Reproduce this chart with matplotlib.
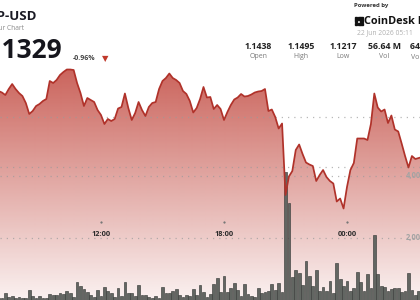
import numpy as np
import pandas as pd
import matplotlib
matplotlib.use('Agg')
import matplotlib.pyplot as plt
import matplotlib.dates as mdates
from matplotlib.path import Path
from matplotlib.patches import Rectangle
from matplotlib.transforms import blended_transform_factory as btf

# ---------------- data ----------------
start_time = '2026-06-21 07:00'
n_points = 125
times = pd.date_range(start_time, periods=n_points, freq='10min')

price = [
    1.1452, 1.1449, 1.1444, 1.1456, 1.1466, 1.1456, 1.1448, 1.1442, 1.1428, 1.1406,
    1.1412, 1.1422, 1.1426, 1.1432, 1.1436, 1.1472, 1.1468, 1.1474, 1.1484, 1.1490,
    1.1495, 1.1495, 1.1494, 1.1468, 1.1448, 1.1422, 1.1438, 1.1434, 1.1430, 1.1414,
    1.1404, 1.1386, 1.1396, 1.1392, 1.1396, 1.1417, 1.1420, 1.1447, 1.1418, 1.1394,
    1.1408, 1.1430, 1.1414, 1.1402, 1.1420, 1.1428, 1.1430, 1.1456, 1.1472, 1.1478,
    1.1487, 1.1478, 1.1474, 1.1468, 1.1452, 1.1446, 1.1432, 1.1409, 1.1418, 1.1436,
    1.1460, 1.1439, 1.1440, 1.1416, 1.1424, 1.1416, 1.1394, 1.1410, 1.1424, 1.1435,
    1.1439, 1.1446, 1.1441, 1.1442, 1.1445, 1.1449, 1.1451, 1.1452, 1.1456, 1.1412,
    1.1415, 1.1400, 1.1377, 1.1387, 1.1244, 1.1281, 1.1292, 1.1334, 1.1345, 1.1326,
    1.1309, 1.1305, 1.1302, 1.1272, 1.1284, 1.1294, 1.1280, 1.1272, 1.1267, 1.1231,
    1.1237, 1.1217, 1.1260, 1.1294, 1.1308, 1.1357, 1.1357, 1.1357, 1.1354, 1.1386,
    1.1447, 1.1419, 1.1411, 1.1415, 1.1388, 1.1403, 1.1375, 1.1371, 1.1347, 1.1322,
    1.1299, 1.1322, 1.1316, 1.1318, 1.1320,
]

volume = [
    65, 65, 225, 95, 130, 65, 95, 50, 65, 320,
    130, 65, 115, 50, 50, 195, 160, 160, 225, 195,
    290, 225, 95, 580, 450, 355, 260, 160, 95, 320,
    130, 420, 290, 225, 95, 385, 130, 580, 225, 225,
    130, 485, 160, 160, 95, 65, 130, 65, 420, 225,
    225, 290, 355, 160, 95, 160, 130, 355, 160, 485,
    260, 95, 195, 515, 710, 260, 775, 260, 385, 550,
    320, 130, 515, 195, 130, 95, 385, 225, 260, 290,
    515, 320, 550, 260, 4130, 3130, 740, 970, 870, 480,
    1260, 775, 450, 970, 290, 420, 290, 615, 225, 1195,
    680, 450, 615, 290, 385, 905, 580, 290, 840, 385,
    2095, 840, 450, 420, 290, 355, 385, 385, 260, 290,
    870, 320, 160, 290, 225,
]

tick_times = ['2026-06-21 12:00', '2026-06-21 18:00', '2026-06-22 00:00']
tick_labels = ['12:00', '18:00', '00:00']
price_grid = [1.13, 1.14]
vol_ticks = [2000, 4000]
vol_tick_labels = ['2,000M', '4,000M']

pair_name = 'GBP-USD'
subtitle = '24 Hour Chart'
last_price = '1.1329'
change_pct = '-0.96%'
stat_values = ['1.1438', '1.1495', '1.1217', '56.64 M', '64.12 M']
stat_labels = ['Open', 'High', 'Low', 'Vol', 'Vol (USD)']
timestamp = '22 Jun 2026 05:11'

# ---------------- figure ----------------
W, H = 420, 300
fig = plt.figure(figsize=(W / 100, H / 100), dpi=100)
fig.patch.set_facecolor('white')

ref = pd.Timestamp('2026-06-21 12:00')
x0 = mdates.date2num(ref - pd.Timedelta(minutes=295.6))
x1 = mdates.date2num(ref + pd.Timedelta(minutes=933.7))

ax = fig.add_axes([0, 0, 1, 1])
ax.set_xlim(x0, x1)
ax.set_ylim(1.1034, 1.1634)
ax.axis('off')

tnum = mdates.date2num(times)
pr = np.array(price)

# gradient fill clipped to area below the line
ys = np.arange(H)
alpha = np.clip(0.8 - (ys - 70) * 0.7 / 220, 0.07, 0.82)
grad = np.zeros((H, 1, 4))
grad[:, 0, 0] = 190 / 255
grad[:, 0, 1] = 62 / 255
grad[:, 0, 2] = 52 / 255
grad[:, 0, 3] = alpha
im = ax.imshow(grad, extent=[x0, x1, 1.1034, 1.1634], aspect='auto',
               origin='upper', zorder=1, interpolation='bilinear')
verts = [(tnum[0], 1.1034)] + list(zip(tnum, pr)) + [(tnum[-1], 1.1034), (tnum[0], 1.1034)]
clip = Path(verts, closed=True)
im.set_clip_path(clip, transform=ax.transData)

for g in price_grid:
    ax.axhline(g, color='#9a9a9a', lw=0.9, ls=(0, (1, 4)), alpha=0.7, zorder=2)

# volume axis
axv = ax.twinx()
axv.set_ylim(0, 9677)
axv.set_xlim(x0, x1)
axv.axis('off')
for v in vol_ticks:
    axv.axhline(v, color='#9a9a9a', lw=0.9, ls=(0, (1, 4)), alpha=0.7, zorder=2)
axv.bar(times, volume, width=8 / 1440, color='#626662', edgecolor='#3c3e3c',
        linewidth=0.45, zorder=3)
for v, lab in zip(vol_ticks, vol_tick_labels):
    axv.text(406 / W, v, lab, transform=btf(axv.transAxes, axv.transData),
             ha='left', va='center', fontsize=5.5, fontweight='bold',
             color='#a3a3a3', family='Open Sans')

# price line
axl = ax.twinx()
axl.set_ylim(ax.get_ylim())
axl.set_xlim(x0, x1)
axl.axis('off')
axl.plot(times, price, color='#b0322a', lw=1.25, zorder=5, solid_joinstyle='round')

# time ticks (inside)
for t, lab in zip(tick_times, tick_labels):
    tn = mdates.date2num(pd.Timestamp(t))
    ax.plot([tn], [1 - 222 / H], transform=btf(ax.transData, ax.transAxes),
            marker='s', ms=0.6, color='#777777', zorder=6)
    ax.text(tn, 1 - 234.6 / H, lab, transform=btf(ax.transData, ax.transAxes),
            ha='center', va='center', fontsize=5.3, fontweight='bold',
            color='#2b2b2b', family='Open Sans', zorder=6)


def fx(x):
    return x / W


def fy(y):
    return 1 - y / H


# header
fig.text(fx(37), fy(17), pair_name, ha='right', va='center', fontsize=9.5,
         fontweight='bold', family='Open Sans', color='#1a1a24')
fig.text(fx(24), fy(29), subtitle, ha='right', va='center', fontsize=4.8,
         family='Open Sans', color='#8a8a8a')
fig.text(fx(62), fy(50), last_price, ha='right', va='center', fontsize=19,
         fontweight='bold', family='Open Sans', color='#16161d')
fig.text(fx(73), fy(58.4), change_pct, ha='left', va='center', fontsize=5.0,
         fontweight='bold', family='Open Sans', color='#444444')
fig.text(fx(105.5), fy(58.6), '▼', ha='center', va='center', fontsize=6,
         family='DejaVu Sans', color='#c0392b')

fig.text(fx(354.5), fy(6), 'Powered by', ha='left', va='center', fontsize=4.3,
         fontweight='bold', family='Open Sans', color='#333333')
# logo icon
cells = [(0, 0), (1, 0), (2, 0), (0, 1), (0, 2), (1, 2), (2, 2), (2, 1)]
for cx, cy in cells:
    fig.patches.append(Rectangle((fx(355 + cx * 2.6), fy(17 + (cy + 1) * 2.6)),
                                 2.3 / W, 2.3 / H, transform=fig.transFigure,
                                 color='#111111'))
fig.text(fx(364), fy(21), 'CoinDesk Data', ha='left', va='center', fontsize=7.8,
         fontweight='bold', family='Open Sans', color='#111111')
fig.text(fx(356.7), fy(33.2), timestamp, ha='left', va='center', fontsize=4.9,
         family='Open Sans', color='#b0b0b0')

stat_x = [258.5, 301, 343, 384.5, 426]
for sx, val, lab in zip(stat_x, stat_values, stat_labels):
    fig.text(fx(sx), fy(46.7), val, ha='center', va='center', fontsize=6.3,
             fontweight='bold', family='Open Sans', color='#222222')
    fig.text(fx(sx), fy(57), lab, ha='center', va='center', fontsize=5.0,
             family='Open Sans', color='#7a7a7a')

fig.savefig('out.png', dpi=100)
